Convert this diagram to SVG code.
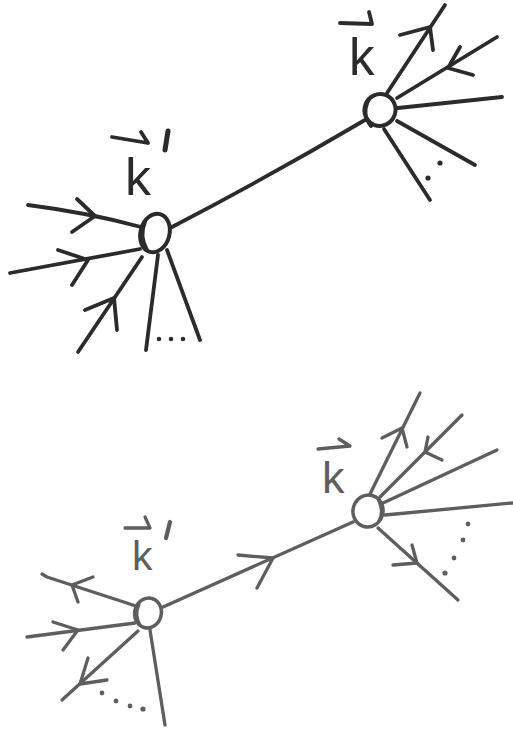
<svg xmlns="http://www.w3.org/2000/svg" width="513" height="729" viewBox="0 0 513 729">
<style>
.top{stroke:#2b2b2b;stroke-width:3.8;fill:none;stroke-linecap:round;stroke-linejoin:round}
.bot{stroke:#5e5e5e;stroke-width:3.3;fill:none;stroke-linecap:round;stroke-linejoin:round}
.ntop{stroke:#2b2b2b;stroke-width:4;fill:#fff}
.nbot{stroke:#5e5e5e;stroke-width:3.5;fill:#fff}
.lt{font-family:"Liberation Sans",Arial,sans-serif;fill:#2b2b2b}
.lb{font-family:"Liberation Sans",Arial,sans-serif;fill:#5e5e5e}
.dt{fill:#2b2b2b}
.db{fill:#5e5e5e}
</style>
<rect width="513" height="729" fill="#fff"/>
<g id="connectors">
  <!-- top diagram -->
  <path class="top" d="M172,227 Q270,176 365,120"/>
  <path class="top" d="M28,205 Q90,213 141,227"/>
  <path class="top" d="M77,199 L95,216 L72,232"/>
  <path class="top" d="M10,273 L140,249"/>
  <path class="top" d="M58,250 L88,260 L72,285"/>
  <path class="top" d="M78,352 L142,257"/>
  <path class="top" d="M85,310 L114,298 L117,330"/>
  <path class="top" d="M158,255 L146,350"/>
  <path class="top" d="M167,250 L200,340"/>
  <path class="top" d="M387,93 L445,5"/>
  <path class="top" d="M400,35 L430,27 L433,50"/>
  <path class="top" d="M497,37 L397,98"/>
  <path class="top" d="M460,47 L448,68 L473,75"/>
  <path class="top" d="M502,97 L398,108"/>
  <path class="top" d="M397,121 L475,165"/>
  <path class="top" d="M384,129 L430,200"/>
  <!-- bottom diagram -->
  <path class="bot" d="M163,607 L353,522"/>
  <path class="bot" d="M238,555 L273,558 L257,588"/>
  <path class="bot" d="M136,606 L47,577 L42,574"/>
  <path class="bot" d="M93,577 L72,585 L78,602"/>
  <path class="bot" d="M27,637 L135,623"/>
  <path class="bot" d="M53,622 L78,630 L63,650"/>
  <path class="bot" d="M138,631 L62,700"/>
  <path class="bot" d="M88,658 L80,684 L107,680"/>
  <path class="bot" d="M150,630 L165,725"/>
  <path class="bot" d="M370,494 L420,393"/>
  <path class="bot" d="M382,438 L402,428 L407,447"/>
  <path class="bot" d="M462,415 L380,497"/>
  <path class="bot" d="M428,437 L425,452 L442,460"/>
  <path class="bot" d="M497,450 L383,503"/>
  <path class="bot" d="M512,503 L385,515"/>
  <path class="bot" d="M378,528 L458,600"/>
  <path class="bot" d="M393,565 L417,563 L412,545"/>
  <!-- ellipsis dots -->
  <circle class="dt" cx="159" cy="339" r="2.3"/>
  <circle class="dt" cx="171" cy="339" r="2.3"/>
  <circle class="dt" cx="183" cy="339" r="2.3"/>
  <circle class="dt" cx="440" cy="163" r="2.6"/>
  <circle class="dt" cx="428" cy="178" r="2.6"/>
  <circle class="db" cx="102" cy="693" r="2.4"/>
  <circle class="db" cx="116" cy="701" r="2.4"/>
  <circle class="db" cx="130" cy="706" r="2.4"/>
  <circle class="db" cx="143" cy="709" r="2.6"/>
  <circle class="db" cx="468" cy="524" r="2.4"/>
  <circle class="db" cx="463" cy="540" r="2.4"/>
  <circle class="db" cx="454" cy="558" r="2.4"/>
  <circle class="db" cx="445" cy="573" r="2.6"/>
</g>
<g id="node-k-prime-top">
  <ellipse class="ntop" cx="155" cy="233" rx="14.5" ry="19.5" transform="rotate(15 155 233)"/>
  <path class="top" d="M145,222 Q139,236 147,250"/>
  <text class="lt" x="125" y="195" font-size="52">k</text>
  <path class="top" d="M112,137 L148,143 M141,132 L148,143"/>
  <path class="top" d="M168,131 L165,150" style="stroke-width:5"/>
</g>
<g id="node-k-top">
  <ellipse class="ntop" cx="380" cy="110" rx="15.5" ry="16" transform="rotate(20 380 110)"/>
  <path class="top" d="M369,99 Q361,114 371,126"/>
  <text class="lt" x="349" y="75" font-size="51">k</text>
  <path class="top" d="M340,23 L372,24 M369,12 L372,24"/>
</g>
<g id="node-k-prime-bottom">
  <ellipse class="nbot" cx="148" cy="613" rx="13.3" ry="15" transform="rotate(15 148 613)"/>
  <path class="bot" d="M139,604 Q134,615 140,625"/>
  <text class="lb" x="132" y="570" font-size="41">k</text>
  <path class="bot" d="M125,528 L150,528 M145,517 L150,528"/>
  <path class="bot" d="M170,522 L166,538" style="stroke-width:4.2"/>
</g>
<g id="node-k-bottom">
  <ellipse class="nbot" cx="368" cy="511" rx="15" ry="16" transform="rotate(15 368 511)"/>
  <path class="bot" d="M379,521 Q384,512 379,501"/>
  <text class="lb" x="322" y="493" font-size="45">k</text>
  <path class="bot" d="M318,449 L350,446 M339,439 L350,446"/>
</g>
</svg>
